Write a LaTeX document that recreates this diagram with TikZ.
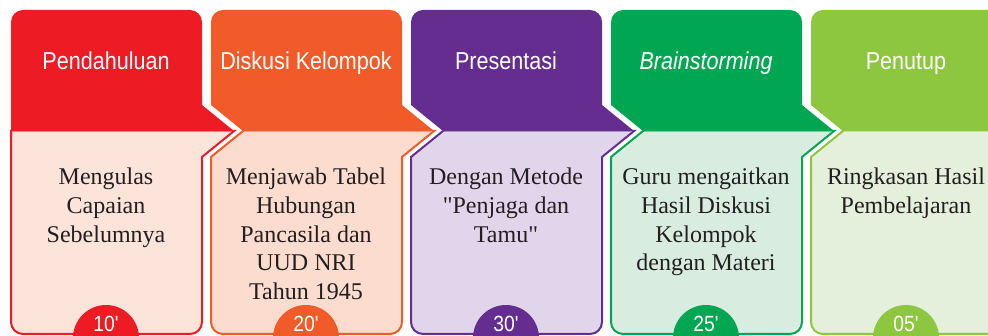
\documentclass[tikz,border=0pt]{standalone}
\usepackage{fontspec}
\setmainfont[Ligatures=TeXOff]{Liberation Serif}
\newfontfamily\hf[FakeStretch=0.88,Ligatures=TeXOff]{Liberation Sans}
\definecolor{cA}{HTML}{ED1C24}\definecolor{bA}{HTML}{FDE4DA}
\definecolor{cB}{HTML}{F15A29}\definecolor{bB}{HTML}{FCDCCE}
\definecolor{cC}{HTML}{662D91}\definecolor{bC}{HTML}{E1D5EB}
\definecolor{cD}{HTML}{00A651}\definecolor{bD}{HTML}{D8EDE0}
\definecolor{cE}{HTML}{8DC63F}\definecolor{bE}{HTML}{E5F0DC}
\definecolor{txt}{HTML}{231F20}
\tikzset{
  headtext/.style={text=white, font=\hf\fontsize{24.5}{29}\selectfont, anchor=base, inner sep=0pt},
  bodytext/.style={text=txt, font=\fontsize{24}{28.8}\selectfont, align=center, anchor=north, inner sep=0pt},
  mintext/.style={text=white, font=\hf\fontsize{22}{26}\selectfont, anchor=base, inner sep=0pt},
  bodyline/.style={line width=2pt, line join=miter},
}
\begin{document}
\begin{tikzpicture}[x=1pt,y=1pt]
\clip (0,0) rectangle (988,-336);
\fill[white] (0,0) rectangle (988,-336);
\foreach \L/\c/\b/\h/\t/\m [count=\i] in {
  11/cA/bA/{Pendahuluan}/{Mengulas\\Capaian\\Sebelumnya}/{10'},
  211/cB/bB/{Diskusi Kelompok}/{Menjawab Tabel\\Hubungan\\Pancasila dan\\UUD NRI\\Tahun 1945}/{20'},
  411/cC/bC/{Presentasi}/{Dengan Metode\\"Penjaga dan\\Tamu"}/{30'},
  611/cD/bD/{\itshape Brainstorming}/{Guru mengaitkan\\Hasil Diskusi\\Kelompok\\dengan Materi}/{25'},
  811/cE/bE/{Penutup}/{Ringkasan Hasil\\Pembelajaran}/{05'}}{
  \ifnum\i=1 \def\n{0}\else\def\n{32}\fi
  % body
  \draw[bodyline, draw=\c, fill=\b] (\L+\n,-131) -- (\L+223,-131) -- (\L+191,-157) -- (\L+191,-322)
     arc[start angle=0,end angle=-90,radius=12] -- (\L+12,-334)
     arc[start angle=270,end angle=180,radius=12] -- (\L,-157) -- cycle;
  % header
  \fill[\c] (\L+\n,-131) -- (\L,-105) -- (\L,-22) arc[start angle=180,end angle=90,radius=12]
     -- (\L+179,-10) arc[start angle=90,end angle=0,radius=12] -- (\L+191,-105) -- (\L+223,-131) -- cycle;
  \draw[\c!55!white, line width=0.8pt] (\L+\n+1,-131.5) -- (\L+221,-131.5);
  \node[headtext] (h\i) at (\L+95,-69.3) {\h};
  \node[bodytext] (t\i) at (\L+95,-167.6) {\t};
  \fill[\c] (\L+95,-338) circle (33);
  \node[mintext] (m\i) at (\L+95,-332) {\m};
}
\end{tikzpicture}
\end{document}
